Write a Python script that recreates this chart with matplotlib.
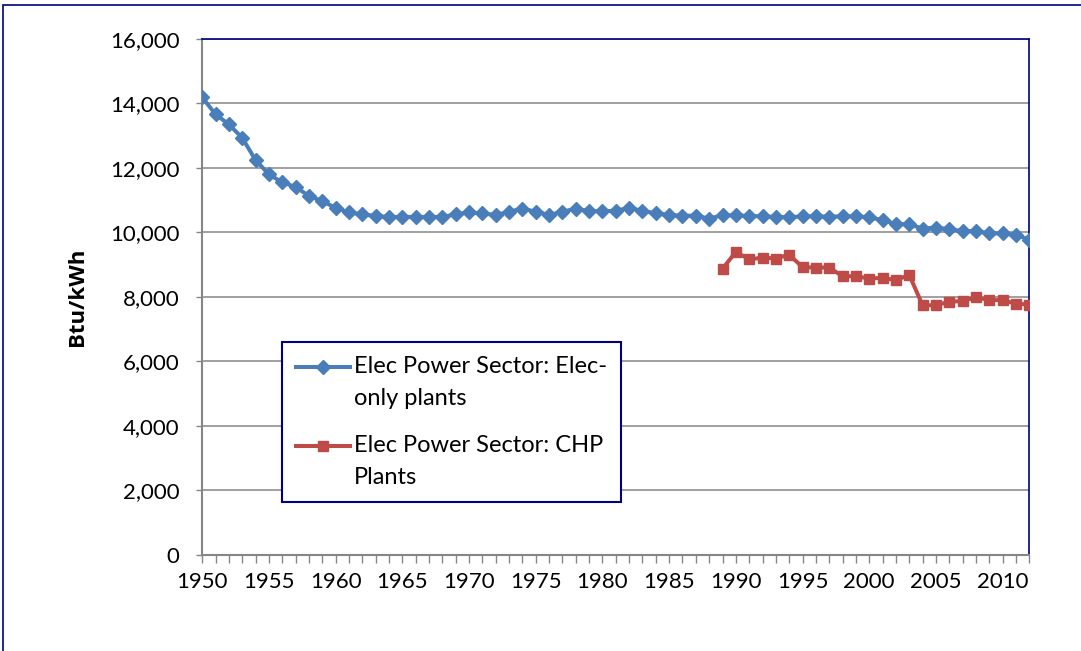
import numpy as np
import matplotlib
matplotlib.use('Agg')
import matplotlib.pyplot as plt
from matplotlib.patches import Rectangle

plt.rcParams['font.family'] = ['Lato', 'DejaVu Sans']

# data
years = list(range(1950, 2013))
elec_only = [14190, 13660, 13350, 12930, 12240, 11800, 11550, 11410, 11130, 10970,
             10760, 10620, 10560, 10510, 10480, 10480, 10480, 10480, 10480, 10560,
             10620, 10590, 10540, 10640, 10740, 10640, 10540, 10640, 10740, 10660,
             10660, 10670, 10760, 10670, 10590, 10540, 10520, 10520, 10430, 10530,
             10530, 10510, 10500, 10480, 10470, 10500, 10500, 10490, 10500, 10500,
             10470, 10380, 10260, 10250, 10120, 10150, 10100, 10040, 10040, 9970,
             9970, 9920, 9780]
chp_years = list(range(1989, 2013))
chp = [8870, 9400, 9160, 9220, 9190, 9310, 8920, 8910, 8910, 8640,
       8640, 8570, 8590, 8520, 8680, 7740, 7740, 7850, 7870, 7990,
       7900, 7900, 7790, 7760]

blue = '#4A7EBB'
red = '#BE4B48'
navy = '#000080'
grey = '#868686'

fig = plt.figure(figsize=(10.81, 6.51), dpi=100)
ax = fig.add_axes([0.1871, 0.1478, 0.7651, 0.7923])

# outer chart border (top and left edges visible)
fig.patches.append(Rectangle((3 / 1081, -0.05), 1.2, 1 - 5 / 651 + 0.05,
                             transform=fig.transFigure, fill=False,
                             edgecolor=navy, linewidth=1.2))

ax.plot(years, elec_only, color=blue, lw=2.9, marker='D', ms=7.4,
        mec=blue, mfc=blue, label='Elec Power Sector: Elec-\nonly plants', zorder=3)
ax.plot(chp_years, chp, color=red, lw=2.9, marker='s', ms=7.8,
        mec=red, mfc=red, label='Elec Power Sector: CHP\nPlants', zorder=3)

ax.set_xlim(1950, 2012)
ax.set_ylim(0, 16000)
ax.set_yticks(range(0, 16001, 2000))
ax.set_yticklabels(['{:,}'.format(v) for v in range(0, 16001, 2000)])
ax.set_xticks(years)
ax.set_xticklabels([str(y) if y % 5 == 0 else '' for y in years])

ax.grid(axis='y', color=grey, lw=1.1)
ax.set_axisbelow(True)
ax.tick_params(axis='y', direction='out', length=4.5, width=1, color=grey,
               labelsize=16, pad=12)
ax.tick_params(axis='x', direction='out', length=5.5, width=1, color=grey,
               labelsize=16, pad=7)

for s in ['top', 'right']:
    ax.spines[s].set_color(navy)
    ax.spines[s].set_linewidth(1.2)
for s in ['left', 'bottom']:
    ax.spines[s].set_color(grey)
    ax.spines[s].set_linewidth(1.5)

ax.set_ylabel('Btu/kWh', fontsize=16, fontweight='bold',
              family=['Open Sans', 'DejaVu Sans'])
ax.yaxis.set_label_coords(-0.138, 0.5)

leg = ax.legend(loc='upper left', bbox_to_anchor=(0.0964, 0.4126), fontsize=17,
                frameon=True, fancybox=False, framealpha=1, edgecolor=navy,
                handlelength=2.3, handletextpad=0.15, borderpad=0.6,
                labelspacing=1.1, borderaxespad=0)
leg.get_frame().set_linewidth(1.5)
for t in leg.get_texts():
    t.set_linespacing(1.65)
# put each legend line next to the first line of its two-line label
for h in leg.legend_handles:
    h.set_ydata(np.asarray(h.get_ydata()) + 11.5)

plt.savefig('out.png', dpi=100)
